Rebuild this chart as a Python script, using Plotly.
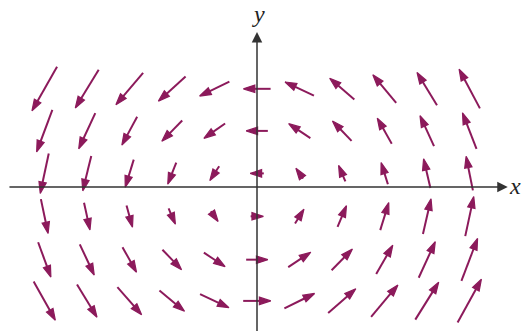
"""Champ de vecteurs (rotation autour de l'origine)
"""

import plotly.graph_objects as go

# positions de la grille
xs = [-5, -4, -3, -2, -1, 0, 1, 2, 3, 4, 5]
ys = [2.31, 1.32, 0.32, -0.69, -1.71, -2.68]

# composantes des fleches, une ligne par valeur de ys
U = [
    [-0.59, -0.55, -0.64, -0.64, -0.70, -0.64, -0.68, -0.58, -0.55, -0.47, -0.49],
    [-0.37, -0.39, -0.36, -0.48, -0.50, -0.51, -0.51, -0.45, -0.34, -0.33, -0.33],
    [-0.20, -0.20, -0.20, -0.20, -0.22, -0.32, -0.17, -0.16, -0.16, -0.16, -0.16],
    [0.17, 0.14, 0.14, 0.16, 0.17, 0.30, 0.21, 0.21, 0.20, 0.19, 0.20],
    [0.30, 0.34, 0.33, 0.45, 0.50, 0.51, 0.53, 0.49, 0.39, 0.39, 0.38],
    [0.51, 0.47, 0.57, 0.59, 0.68, 0.65, 0.71, 0.65, 0.63, 0.55, 0.56],
]
V = [
    [-1.04, -0.90, -0.75, -0.58, -0.34, 0.0, 0.32, 0.50, 0.66, 0.77, 0.92],
    [-0.99, -0.84, -0.67, -0.49, -0.35, 0.0, 0.34, 0.47, 0.60, 0.72, 0.85],
    [-0.94, -0.82, -0.65, -0.51, -0.34, 0.0, 0.24, 0.38, 0.51, 0.69, 0.80],
    [-0.81, -0.64, -0.51, -0.37, -0.24, 0.0, 0.34, 0.50, 0.65, 0.83, 0.93],
    [-0.82, -0.72, -0.59, -0.47, -0.33, 0.0, 0.35, 0.50, 0.68, 0.85, 1.00],
    [-0.91, -0.77, -0.65, -0.49, -0.32, 0.0, 0.35, 0.57, 0.75, 0.88, 1.02],
]

COULEUR = "#8c1a5b"
AXE = "#333333"


def axe(x0, y0, x1, y1):
    """axe avec fleche (annotation)"""
    return dict(x=x1, y=y1, ax=x0, ay=y0,
                xref="x", yref="y", axref="x", ayref="y", text="",
                showarrow=True, arrowhead=2, arrowsize=1.4,
                arrowwidth=1.5, arrowcolor=AXE, standoff=0)


def main():
    # segments queue -> tete, tete marquee par un symbole fleche
    px, py, sym, taille = [], [], [], []
    for j, y in enumerate(ys):
        for i, x in enumerate(xs):
            u, v = U[j][i], V[j][i]
            px += [x - u / 2, x + u / 2, None]
            py += [y - v / 2, y + v / 2, None]
            sym += ["circle", "arrow", "circle"]
            taille += [0, 12, 0]

    fig = go.Figure()
    fig.add_trace(go.Scatter(
        x=px, y=py, mode="lines+markers", hoverinfo="skip",
        line={"color": COULEUR, "width": 2},
        marker={"symbol": sym, "size": taille, "angleref": "previous",
                "color": COULEUR, "opacity": 1,
                "line": {"width": 1.2, "color": COULEUR}},
    ))

    annotations = [axe(-5.86, 0, 5.9, 0), axe(0, -3.45, 0, 3.65)]
    lab = {"family": "Liberation Serif", "size": 24, "color": "#222"}
    annotations.append(dict(x=6.08, y=0.02, xref="x", yref="y", text="<i>x</i>",
                            showarrow=False, font=lab))
    annotations.append(dict(x=0.03, y=4.08, xref="x", yref="y", text="<i>y</i>",
                            showarrow=False, font=lab))

    fig.update_layout(
        width=524, height=331,
        margin={"l": 0, "r": 0, "t": 0, "b": 0},
        paper_bgcolor="white", plot_bgcolor="white",
        showlegend=False,
        xaxis={"range": [-257 / 42.5, 267 / 42.5], "visible": False},
        yaxis={"range": [-144 / 42.5, 187 / 42.5], "visible": False},
        annotations=annotations,
    )
    # la page a une marge de 8px par defaut
    fig.write_html("out.html", config={"displayModeBar": False},
                   post_script="document.body.style.margin='0';")


if __name__ == "__main__":
    main()
